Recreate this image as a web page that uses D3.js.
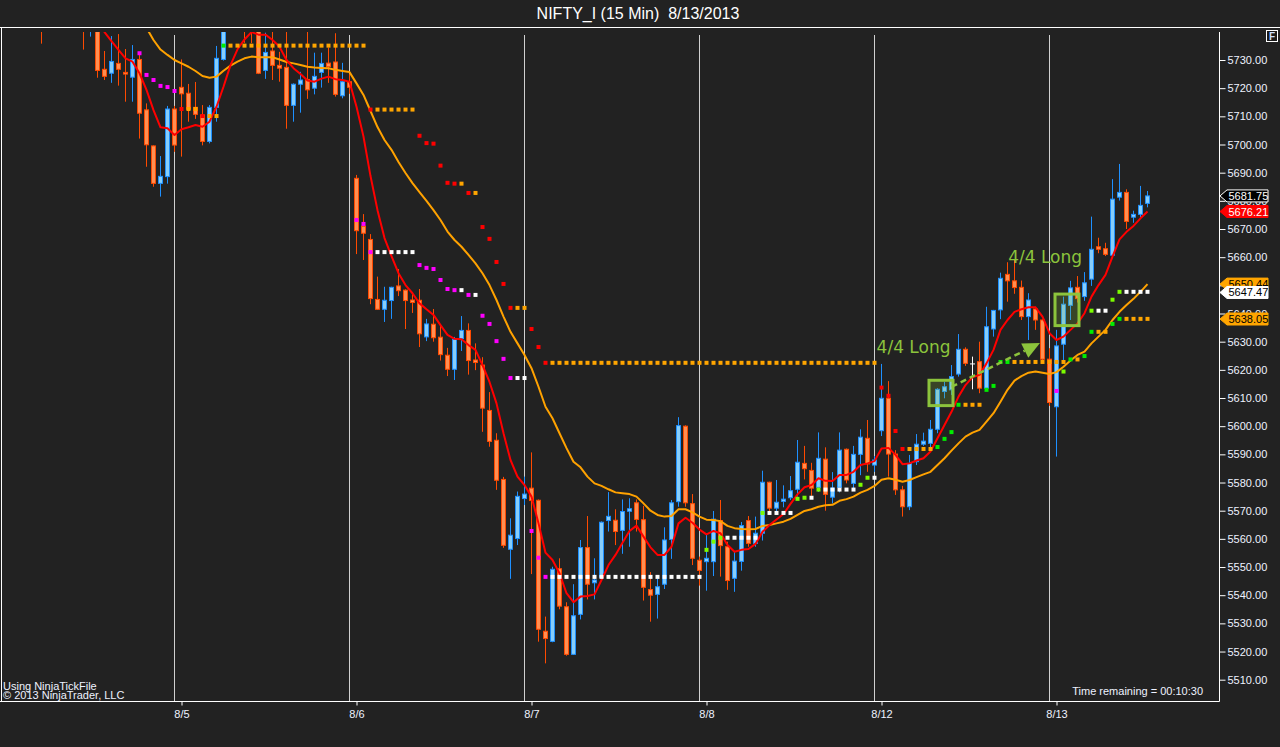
<!DOCTYPE html>
<html><head><meta charset="utf-8">
<script src="https://cdn.jsdelivr.net/npm/d3@7/dist/d3.min.js"></script>
<style>html,body{margin:0;padding:0;background:#222222;overflow:hidden}svg{display:block}</style>
</head><body>
<svg id="chart" width="1280" height="747"></svg>
<script>
// ---- DATA (15-min bars, index 0 = first bar at left edge) ----
const opens = [5745,5750,5747,5749,5746,5748,5746,5742,5744,5726.7,5725.3,5728.8,5725.6,5723.9,5730.2,5712.3,5699.5,5686.2,5688.6,5712.6,
5720.3,5718.2,5713.2,5710.5,5701.1,5713.2,5730.2,5744,5749,5746,5743,5742,5726.3,5733.2,5728.1,5727.4,5713.9,5721.4,5723.1,5720.0,
5725.6,5728.9,5729.3,5717.3,5722.3,5688.0,5671.0,5666.3,5645.0,5641.5,5644.6,5649.8,5648.3,5644.8,5644.7,5631.7,5636.2,5631.6,5625.2,5620.2,
5631.1,5634.0,5623.5,5621.7,5605.6,5595.0,5581.1,5556.3,5560.1,5574.3,5578.0,5573.7,5527.2,5523.6,5549.4,5535.9,5519.0,5533.2,5556.9,5544.4,
5546.4,5566.5,5566.6,5563.0,5569.8,5572.8,5566.8,5542.0,5540.3,5543.9,5559.8,5573.2,5600.0,5572.5,5552.4,5551.9,5551.9,5566.5,5557.2,5546.0,
5552.0,5566.5,5558.4,5562.0,5580.1,5570.9,5573.3,5574.6,5577.6,5586.8,5584.3,5578.3,5588.3,5574.8,5578.3,5591.8,5579.7,5590.0,5595.7,5586.2,
5598.4,5609.9,5590.1,5577.4,5571.4,5587.4,5593.6,5593.9,5598.9,5612.3,5612.9,5618.5,5627.3,5622.1,5622.9,5613.5,5634.5,5641.3,5653.9,5651.6,
5649.3,5638.9,5641.6,5637.7,5623.8,5606.9,5629.1,5642.9,5649.3,5646.0,5652.2,5663.7,5663.0,5660.7,5681.3,5683.0,5674.2,5675.2,5679.1];
const highs = [5748,5756,5752,5753,5750,5752,5749,5750,5747,5733.2,5738.5,5739.2,5733.9,5735.3,5732.5,5714.6,5699.7,5695.9,5713.7,5713.7,
5730.2,5721.5,5722.2,5714.0,5714.0,5735.0,5748,5752,5755,5750,5748,5745,5739.7,5740.5,5732.9,5740.5,5721.7,5725.8,5740.5,5732.6,
5732.6,5734.4,5739.5,5729.0,5725.0,5689.2,5675.3,5668.2,5653.1,5649.5,5649.5,5655.8,5648.6,5646.9,5648.7,5638.1,5641.6,5635.7,5627.8,5631.7,
5639.1,5636.5,5629.4,5624.5,5612.1,5597.5,5582.0,5567.3,5576.8,5582.1,5590.7,5574.0,5532.4,5550.1,5553.1,5537.5,5543.9,5559.6,5568.1,5553.1,
5566.2,5576.6,5570.5,5574.0,5574.4,5574.0,5571.7,5548.2,5545.9,5564.1,5573.8,5603.2,5600.3,5575.9,5553.7,5561.4,5569.9,5573.8,5559.0,5555.5,
5566.0,5568.1,5567.9,5584.2,5580.3,5580.9,5579.0,5582.3,5595.1,5593.0,5587.0,5597.8,5592.5,5583.7,5597.8,5592.1,5593.0,5598.9,5602.2,5589.4,
5622.1,5616.0,5591.5,5578.8,5589.8,5597.2,5597.7,5602.2,5613.5,5615.8,5621.7,5632.7,5628.0,5624.7,5630.0,5642.4,5641.3,5654.5,5658.2,5659.0,
5651.7,5647.2,5642.4,5637.9,5627.7,5634.2,5646.0,5651.6,5653.3,5654.7,5674.4,5666.9,5665.1,5687.7,5693.1,5684.1,5676.5,5685.3,5683.5];
const lows = [5735.8,5744,5743,5744,5742.5,5743,5733.7,5738.3,5723.7,5722.9,5721.9,5720.9,5715.2,5715.2,5702.1,5692.1,5685.0,5681.5,5686.1,5697.4,
5695.7,5708.1,5709.1,5699.7,5700.4,5708.1,5729.8,5741,5742,5736.1,5736.0,5725.0,5723.3,5722.9,5722.3,5705.6,5708.1,5711.3,5716.2,5717.8,
5720.2,5721.9,5717.0,5716.4,5718.0,5661.1,5659.0,5643.3,5641.3,5637.0,5638.1,5646.2,5634.5,5640.2,5628.1,5630.2,5630.0,5623.3,5617.8,5616.4,
5626.7,5618.3,5619.9,5598.0,5592.7,5577.4,5556.8,5545.8,5557.8,5572.0,5547.5,5523.5,5515.8,5523.3,5535.0,5518.5,5518.8,5531.4,5538.5,5538.5,
5545.4,5562.6,5557.8,5554.7,5557.2,5562.6,5538.1,5530.6,5531.7,5542.2,5552.9,5571.4,5571.4,5550.7,5543.4,5541.6,5546.8,5546.6,5541.9,5541.2,
5548.7,5557.2,5557.2,5559.4,5568.5,5568.5,5571.2,5573.8,5575.0,5581.1,5575.3,5576.7,5570.0,5572.6,5576.5,5579.7,5578.0,5582.6,5583.8,5583.8,
5596.5,5582.1,5575.6,5567.9,5570.2,5586.2,5593.0,5592.2,5597.5,5609.9,5611.1,5617.6,5621.4,5613.1,5611.7,5612.9,5631.8,5638.0,5644.2,5647.0,
5637.7,5630.6,5634.2,5623.3,5607.2,5589.2,5623.5,5637.7,5643.9,5644.5,5649.8,5661.4,5660.4,5660.4,5680.1,5670.0,5672.2,5674.2,5677.7];
const closes = [5742,5747,5749,5746,5748,5745,5742,5747,5726.3,5724.2,5729.5,5726.7,5725.0,5730.2,5711.1,5699.9,5686.2,5688.7,5712.6,5699.8,
5718.0,5712.5,5710.7,5701.1,5713.2,5730.6,5744,5749,5746,5743,5741,5725.3,5732.7,5728.1,5727.1,5713.9,5721.4,5722.9,5719.4,5724.2,
5728.8,5727.6,5717.8,5722.3,5720.3,5669.4,5668.5,5645.3,5641.5,5644.7,5649.3,5648.1,5644.6,5643.9,5632.8,5636.3,5631.4,5625.4,5620.2,5630.8,
5634.0,5623.3,5622.6,5606.4,5594.6,5580.8,5557.7,5561.3,5575.1,5575.9,5573.6,5527.9,5524.6,5549.2,5536.1,5519.0,5532.7,5556.9,5543.9,5545.4,
5565.9,5568.0,5562.6,5569.7,5570.7,5566.9,5542.8,5540.0,5543.0,5559.6,5572.8,5600.2,5572.8,5553.1,5548.8,5553.1,5567.0,5557.6,5545.2,5552.1,
5564.7,5558.4,5562.0,5580.1,5570.9,5573.0,5574.1,5577.1,5587.2,5584.9,5578.0,5588.6,5575.8,5578.0,5591.5,5580.9,5590.0,5596.1,5586.6,5588.0,
5609.9,5590.1,5577.4,5571.4,5586.8,5593.6,5594.7,5598.9,5613.1,5614.0,5617.6,5627.3,5622.3,5622.1,5613.5,5635.3,5641.1,5652.5,5651.6,5649.2,
5638.9,5644.8,5637.7,5623.8,5608.4,5628.5,5643.3,5649.1,5645.3,5650.9,5662.8,5662.8,5661.0,5680.6,5683.0,5672.7,5675.2,5678.4,5681.75];

// fast (red) moving average, starting at bar fastStart
const fastStart = 8;
const fastLine = [5744.2,5739.9,5736.7,5733.6,5730.6,5729.4,5725.3,5719.4,5712.2,5706.1,5705.8,5703.4,5705.4,5706.1,5706.9,5706.3,5708.1,5713.4,5720.5,5728.2,
5733.8,5737.3,5739.9,5739.0,5739.0,5737.1,5734.7,5730.0,5727.1,5725.0,5722.7,5722.3,5723.4,5724.1,5723.2,5722.9,5722.3,
5713.4,5702.8,5688.8,5676.7,5666.8,5660.4,5654.3,5650.1,5647.2,5643.6,5641.5,5639.5,5635.9,5632.4,5631.0,5630.9,5628.8,5627.1,5621.7,5615.7,
5608.1,5597.5,5588.0,5582.1,5579.1,5575.0,5565.5,5555.1,5552.5,5547.8,5540.7,5537.5,5539.5,5539.7,5540.3,5545.4,5550.7,5554.3,5558.6,5562.8,
5564.7,5560.8,5557.0,5554.3,5554.3,5557.2,5565.5,5567.5,5565.7,5563.3,5561.6,5562.8,5562.0,5557.8,5555.4,5556.1,5556.4,5558.2,5562.5,5564.9,
5566.9,5568.8,5572.4,5575.8,5578.3,5579.1,5581.5,5580.6,5580.5,5582.7,5582.7,5583.8,5586.2,5586.8,5587.6,5592.1,5592.3,5589.8,5586.5,5586.8,
5587.8,5588.6,5591.0,5595.7,5600.4,5605.1,5610.5,5614.6,5617.4,5618.2,5622.3,5627.1,5634.2,5637.7,5640.6,5641.5,5642.2,5642.2,5638.9,5633.0,
5630.6,5631.8,5634.2,5636.5,5640.1,5646.0,5650.1,5653.7,5660.2,5666.3,5669.0,5671.1,5673.8,5676.21];

// slow (orange) moving average, starting at bar slowStart
const slowStart = 14;
const slowLine = [5744.2,5741.4,5737.1,5733.7,5731.8,5730.0,5728.8,5727.6,5726.1,5724.3,5723.7,5724.1,5726.2,5728.0,5729.4,5730.6,5731.2,5731.0,5731.0,5731.0,
5730.2,5729.3,5728.8,5728.2,5727.6,5727.3,5727.2,5727.1,5726.5,5726.1,5725.7,
5721.7,5717.6,5711.9,5706.2,5701.6,5698.1,5693.8,5689.9,5686.3,5683.1,5680.0,5676.7,5673.2,5669.1,5666.1,5663.7,5660.8,5657.8,5654.3,5650.1,
5644.8,5638.9,5633.5,5629.4,5625.3,5620.6,5614.0,5606.9,5602.8,5597.5,5592.2,5587.4,5585.4,5582.1,5579.7,5578.8,5577.6,5576.5,5576.2,5575.9,
5575.0,5572.6,5570.0,5568.5,5567.9,5568.1,5570.5,5570.5,5569.4,5567.9,5566.8,5566.7,5566.3,5564.6,5563.8,5563.5,5563.4,5563.5,5564.6,5564.9,
5565.5,5566.1,5567.1,5568.5,5569.9,5570.5,5571.4,5571.9,5572.1,5573.5,5574.1,5575.0,5576.4,5577.4,5578.8,5581.0,5581.5,5581.0,5580.3,5580.9,
5581.9,5582.9,5583.8,5586.2,5588.6,5591.3,5593.9,5596.3,5597.7,5598.7,5601.6,5604.6,5608.7,5612.9,5616.2,5617.8,5619.0,5619.4,5619.0,5618.5,
5619.2,5621.1,5623.3,5625.3,5626.5,5629.4,5631.8,5634.2,5637.7,5640.6,5643.0,5645.2,5647.7,5650.44];

// stop / level markers: [firstBar, lastBar, price, kind]
const stopRuns = [
[20,20,5712.6,'r'],[21,22,5712.6,'o'],[23,23,5710.1,'r'],[24,25,5710.1,'o'],
[26,26,5735.1,'g'],[27,46,5735.1,'o'],
[47,47,5712.4,'r'],[48,53,5712.4,'o'],
[54,54,5703.1,'r'],[55,55,5700.5,'r'],[56,56,5700.3,'r'],[57,57,5692.5,'r'],[58,58,5686.4,'r'],[59,59,5686.1,'r'],[60,60,5686.1,'o'],[61,61,5682.8,'r'],[62,62,5682.8,'o'],
[63,63,5670.7,'r'],[64,64,5666.5,'r'],[65,65,5658.3,'r'],[66,66,5650.5,'r'],[67,67,5642.0,'r'],[68,69,5642.0,'o'],[70,70,5634.5,'r'],[71,71,5628.1,'r'],[72,72,5622.5,'r'],[73,119,5622.5,'o'],
[120,120,5613.7,'r'],[121,121,5610.8,'r'],[122,122,5598.3,'r'],[123,123,5591.9,'r'],[124,127,5591.9,'o'],
[14,14,5732.4,'m'],[15,15,5724.7,'m'],[16,16,5722.9,'m'],[17,17,5720.8,'m'],[18,18,5720.4,'m'],[19,19,5719.0,'m'],
[45,45,5673.2,'m'],[46,46,5671.8,'m'],[47,47,5661.8,'m'],[48,53,5661.8,'w'],
[54,54,5657.2,'m'],[55,55,5656.2,'m'],[56,56,5655.8,'m'],[57,57,5651.9,'m'],[58,58,5648.7,'m'],[59,59,5648.3,'m'],[60,60,5648.3,'w'],[61,61,5646.6,'m'],[62,62,5646.6,'w'],
[63,63,5639.2,'m'],[64,64,5636.3,'m'],[65,65,5630.2,'m'],[66,66,5623.9,'m'],[67,67,5617.1,'m'],[68,69,5617.1,'w'],
[70,70,5562.8,'m'],[71,71,5553.3,'m'],[72,72,5546.5,'m'],[73,94,5546.5,'w'],
[95,95,5556.1,'c'],[96,96,5559.0,'c'],[97,97,5560.4,'c'],[98,102,5560.4,'w'],[103,103,5569.2,'c'],[104,107,5569.2,'w'],[108,108,5574.2,'c'],[109,109,5574.6,'c'],[110,110,5574.6,'w'],[111,111,5577.5,'c'],[112,116,5577.5,'w'],[117,117,5579.2,'c'],[118,118,5581.7,'c'],[119,119,5581.7,'w'],
[128,128,5592.6,'g'],[129,129,5595.5,'g'],[130,130,5597.9,'g'],[131,131,5607.6,'g'],[132,134,5607.6,'o'],[135,135,5612.9,'g'],[136,136,5614.3,'g'],[137,138,5622.8,'g'],[139,146,5622.8,'o'],
[145,145,5612.5,'m'],[146,146,5619.4,'c'],[147,147,5623.7,'g'],[148,148,5623.7,'o'],[149,149,5624.9,'g'],
[150,150,5633.5,'g'],[151,152,5633.5,'o'],[150,150,5641.0,'c'],[151,152,5641.0,'w'],
[153,153,5636.3,'g'],[153,153,5644.9,'c'],[154,154,5638.1,'g'],[155,158,5638.1,'o'],[154,154,5647.7,'c'],[155,158,5647.7,'w']
];

const priceTicks = [5730,5720,5710,5700,5690,5680,5670,5660,5650,5640,5630,5620,5610,5600,5590,5580,5570,5560,5550,5540,5530,5520,5510];
const dayLabels = ["8/5","8/6","8/7","8/8","8/12","8/13"];
const dayFirstBars = [20,45,70,95,120,145];
const sessionBreakBars = [19,44,69,94,119,144];

const tagValues = [5650.44,5647.47,5638.05,5681.75,5676.21];
const tagKinds  = ['slow','stopW','stopO','last','fast'];

const signalTexts = [{bar:119.3, price:5626.0, text:"4/4 Long"},{bar:138.1, price:5657.9, text:"4/4 Long"}];
const signalBoxes = [[127,130,5616.3,5607.3],[145,148,5646.9,5635.7]];
const signalArrow = [[130.03,5614.0],[142.64,5629.5]];

// ---- DRAWING ----
const svg = d3.select("#chart");
const W = 1280, H = 747;
const x = d3.scaleLinear().domain([0,158]).range([41.5,1147.5]);
const y = d3.scaleLinear().domain([5730,5510]).range([60,679.7]);
const FONT = "'Liberation Sans', Arial, 'DejaVu Sans', sans-serif";
const txtCol = "#eef2ff";

svg.append("rect").attr("width",W).attr("height",H).attr("fill","#222222");

// title
svg.append("text").attr("x",638).attr("y",19).attr("text-anchor","middle")
  .attr("font-family",FONT).attr("font-size",16).attr("fill","#ffffff")
  .style("white-space","pre").text("NIFTY_I (15 Min)  8/13/2013");

// frame
svg.append("line").attr("x1",0).attr("x2",W).attr("y1",27.5).attr("y2",27.5).attr("stroke","#ffffff");
svg.append("line").attr("x1",1.5).attr("x2",1.5).attr("y1",27.5).attr("y2",701.5).attr("stroke","#ffffff");
svg.append("line").attr("x1",0).attr("x2",1219.5).attr("y1",701.5).attr("y2",701.5).attr("stroke","#ffffff");
svg.append("line").attr("x1",1219.5).attr("x2",1219.5).attr("y1",32).attr("y2",701.5).attr("stroke","#ffffff");

// F box
svg.append("rect").attr("x",1266.5).attr("y",30.5).attr("width",11).attr("height",11).attr("fill","#1a1a1a").attr("stroke","#ffffff");
svg.append("text").attr("x",1272).attr("y",39.5).attr("text-anchor","middle").attr("font-family",FONT)
  .attr("font-size",10).attr("font-weight","bold").attr("fill","#cfe0ff").text("F");

// clip
svg.append("defs").append("clipPath").attr("id","plot").append("rect")
  .attr("x",2).attr("y",32).attr("width",1216).attr("height",669);
const plot = svg.append("g").attr("clip-path","url(#plot)");

// session lines
plot.selectAll("line.sess").data(sessionBreakBars).enter().append("line")
  .attr("x1",d=>x(d)).attr("x2",d=>x(d)).attr("y1",35).attr("y2",701)
  .attr("stroke","#d0d0d0").attr("stroke-width",1);

// candles
const bars = d3.range(opens.length).map(i=>({i,o:opens[i],h:highs[i],l:lows[i],c:closes[i]}));
const upFill="#87cefa", upLine="#1e90ff", dnFill="#ff8f52", dnLine="#ff4a00";
const cg = plot.append("g");
bars.forEach(b=>{
  const cx = x(b.i);
  const up = b.c>b.o, doji = b.c===b.o;
  const lc = doji? "#ffffff" : (up? upLine: dnLine);
  cg.append("line").attr("x1",cx).attr("x2",cx).attr("y1",y(b.h)).attr("y2",y(b.l)).attr("stroke",lc).attr("stroke-width",1);
  if(doji){
    cg.append("line").attr("x1",cx-2.5).attr("x2",cx+2.5).attr("y1",y(b.o)).attr("y2",y(b.o)).attr("stroke","#ffffff").attr("stroke-width",1);
  } else {
    const top = y(Math.max(b.o,b.c)), bot = y(Math.min(b.o,b.c));
    cg.append("rect").attr("x",cx-2).attr("y",top).attr("width",4).attr("height",Math.max(1,bot-top))
      .attr("fill",up?upFill:dnFill).attr("stroke",lc).attr("stroke-width",1);
  }
});

// moving averages
const slowGen = d3.line().x((d,k)=>x(slowStart+k)).y(d=>y(d));
const fastGen = d3.line().x((d,k)=>x(fastStart+k)).y(d=>y(d));
plot.append("path").attr("d",slowGen(slowLine)).attr("fill","none").attr("stroke","#ffa200").attr("stroke-width",2).attr("stroke-linejoin","round");
plot.append("path").attr("d",fastGen(fastLine)).attr("fill","none").attr("stroke","#ff0000").attr("stroke-width",2).attr("stroke-linejoin","round");

// stop markers
const markCol = {r:"#ff0000", o:"#ffa500", m:"#ff00ff", w:"#ffffff", g:"#00ee00", c:"#7cfc00"};
const pts = [];
stopRuns.forEach(r=>{ for(let b=r[0]; b<=r[1]; b++) pts.push({b, p:r[2], k:r[3]}); });
plot.selectAll("rect.mk").data(pts).enter().append("rect")
  .attr("x",d=>x(d.b)-2).attr("y",d=>y(d.p)-2).attr("width",4).attr("height",4)
  .attr("fill",d=>markCol[d.k]);

// signal boxes / arrow / texts
const sig = "#8cc43c";
signalBoxes.forEach(bx=>{
  plot.append("rect").attr("x",x(bx[0])-1.5).attr("y",y(bx[2]))
    .attr("width",x(bx[1])-x(bx[0])+3).attr("height",y(bx[3])-y(bx[2]))
    .attr("fill","rgba(140,190,60,0.22)").attr("stroke",sig).attr("stroke-width",3);
});
{
  const x1=x(signalArrow[0][0]), y1=y(signalArrow[0][1]), x2=x(signalArrow[1][0]), y2=y(signalArrow[1][1]);
  const dx=x2-x1, dy=y2-y1, L=Math.hypot(dx,dy), ux=dx/L, uy=dy/L;
  const hl=17, hw=8;
  const bx=x2-ux*hl, by=y2-uy*hl;
  plot.append("line").attr("x1",x1).attr("y1",y1).attr("x2",bx).attr("y2",by)
    .attr("stroke",sig).attr("stroke-width",2.5).attr("stroke-dasharray","6,4");
  plot.append("path").attr("d",`M${x2},${y2}L${bx-uy*hw},${by+ux*hw}L${bx+uy*hw},${by-ux*hw}Z`).attr("fill",sig);
}
signalTexts.forEach(t=>{
  plot.append("text").attr("x",x(t.bar)).attr("y",y(t.price)).attr("font-family","'DejaVu Sans', sans-serif")
    .attr("font-size",17).attr("fill",sig).text(t.text);
});

// y axis
const yAxis = d3.axisRight(y).tickValues(priceTicks).tickFormat(d3.format(".2f")).tickSize(6).tickPadding(2);
const ya = svg.append("g").attr("transform","translate(1219.5,0)").call(yAxis);
ya.select(".domain").remove();
ya.selectAll(".tick line").attr("stroke","#ffffff");
ya.selectAll(".tick text").attr("fill",txtCol).attr("font-family",FONT).attr("font-size",11);

// x axis
const xAxis = d3.axisBottom(x).tickValues(dayFirstBars).tickFormat((d,i)=>dayLabels[i]).tickSize(4).tickPadding(5);
const xa = svg.append("g").attr("transform","translate(0,701.5)").call(xAxis);
xa.select(".domain").remove();
xa.selectAll(".tick line").attr("stroke","#ffffff");
xa.selectAll(".tick text").attr("fill",txtCol).attr("font-family",FONT).attr("font-size",11);

// price tags
const tagStyle = {
  slow:{fill:"#ffa500",stroke:"#ffa500",text:"#000000"},
  stopW:{fill:"#ffffff",stroke:"#ffffff",text:"#000000"},
  stopO:{fill:"#ffa500",stroke:"#ffa500",text:"#000000"},
  last:{fill:"#000000",stroke:"#ffffff",text:"#ffffff"},
  fast:{fill:"#ff0000",stroke:"#ff0000",text:"#ffffff"}
};
tagValues.forEach((v,i)=>{
  const st = tagStyle[tagKinds[i]], yy = y(v);
  svg.append("path").attr("d",`M1220,${yy}L1227,${yy-6}L1268,${yy-6}L1268,${yy+6}L1227,${yy+6}Z`)
    .attr("fill",st.fill).attr("stroke",st.stroke).attr("stroke-width",1);
  svg.append("text").attr("x",1228.5).attr("y",yy+4).attr("font-family",FONT).attr("font-size",11)
    .attr("fill",st.text).text(d3.format(".2f")(v));
});

// footer texts
svg.append("text").attr("x",3).attr("y",689.5).attr("font-family",FONT).attr("font-size",11).attr("fill",txtCol).text("Using NinjaTickFile");
svg.append("text").attr("x",3).attr("y",698.5).attr("font-family",FONT).attr("font-size",11).attr("fill",txtCol).text("© 2013 NinjaTrader, LLC");
svg.append("text").attr("x",1203).attr("y",694.5).attr("text-anchor","end").attr("font-family",FONT).attr("font-size",11).attr("fill",txtCol).text("Time remaining = 00:10:30");
</script>
</body></html>
